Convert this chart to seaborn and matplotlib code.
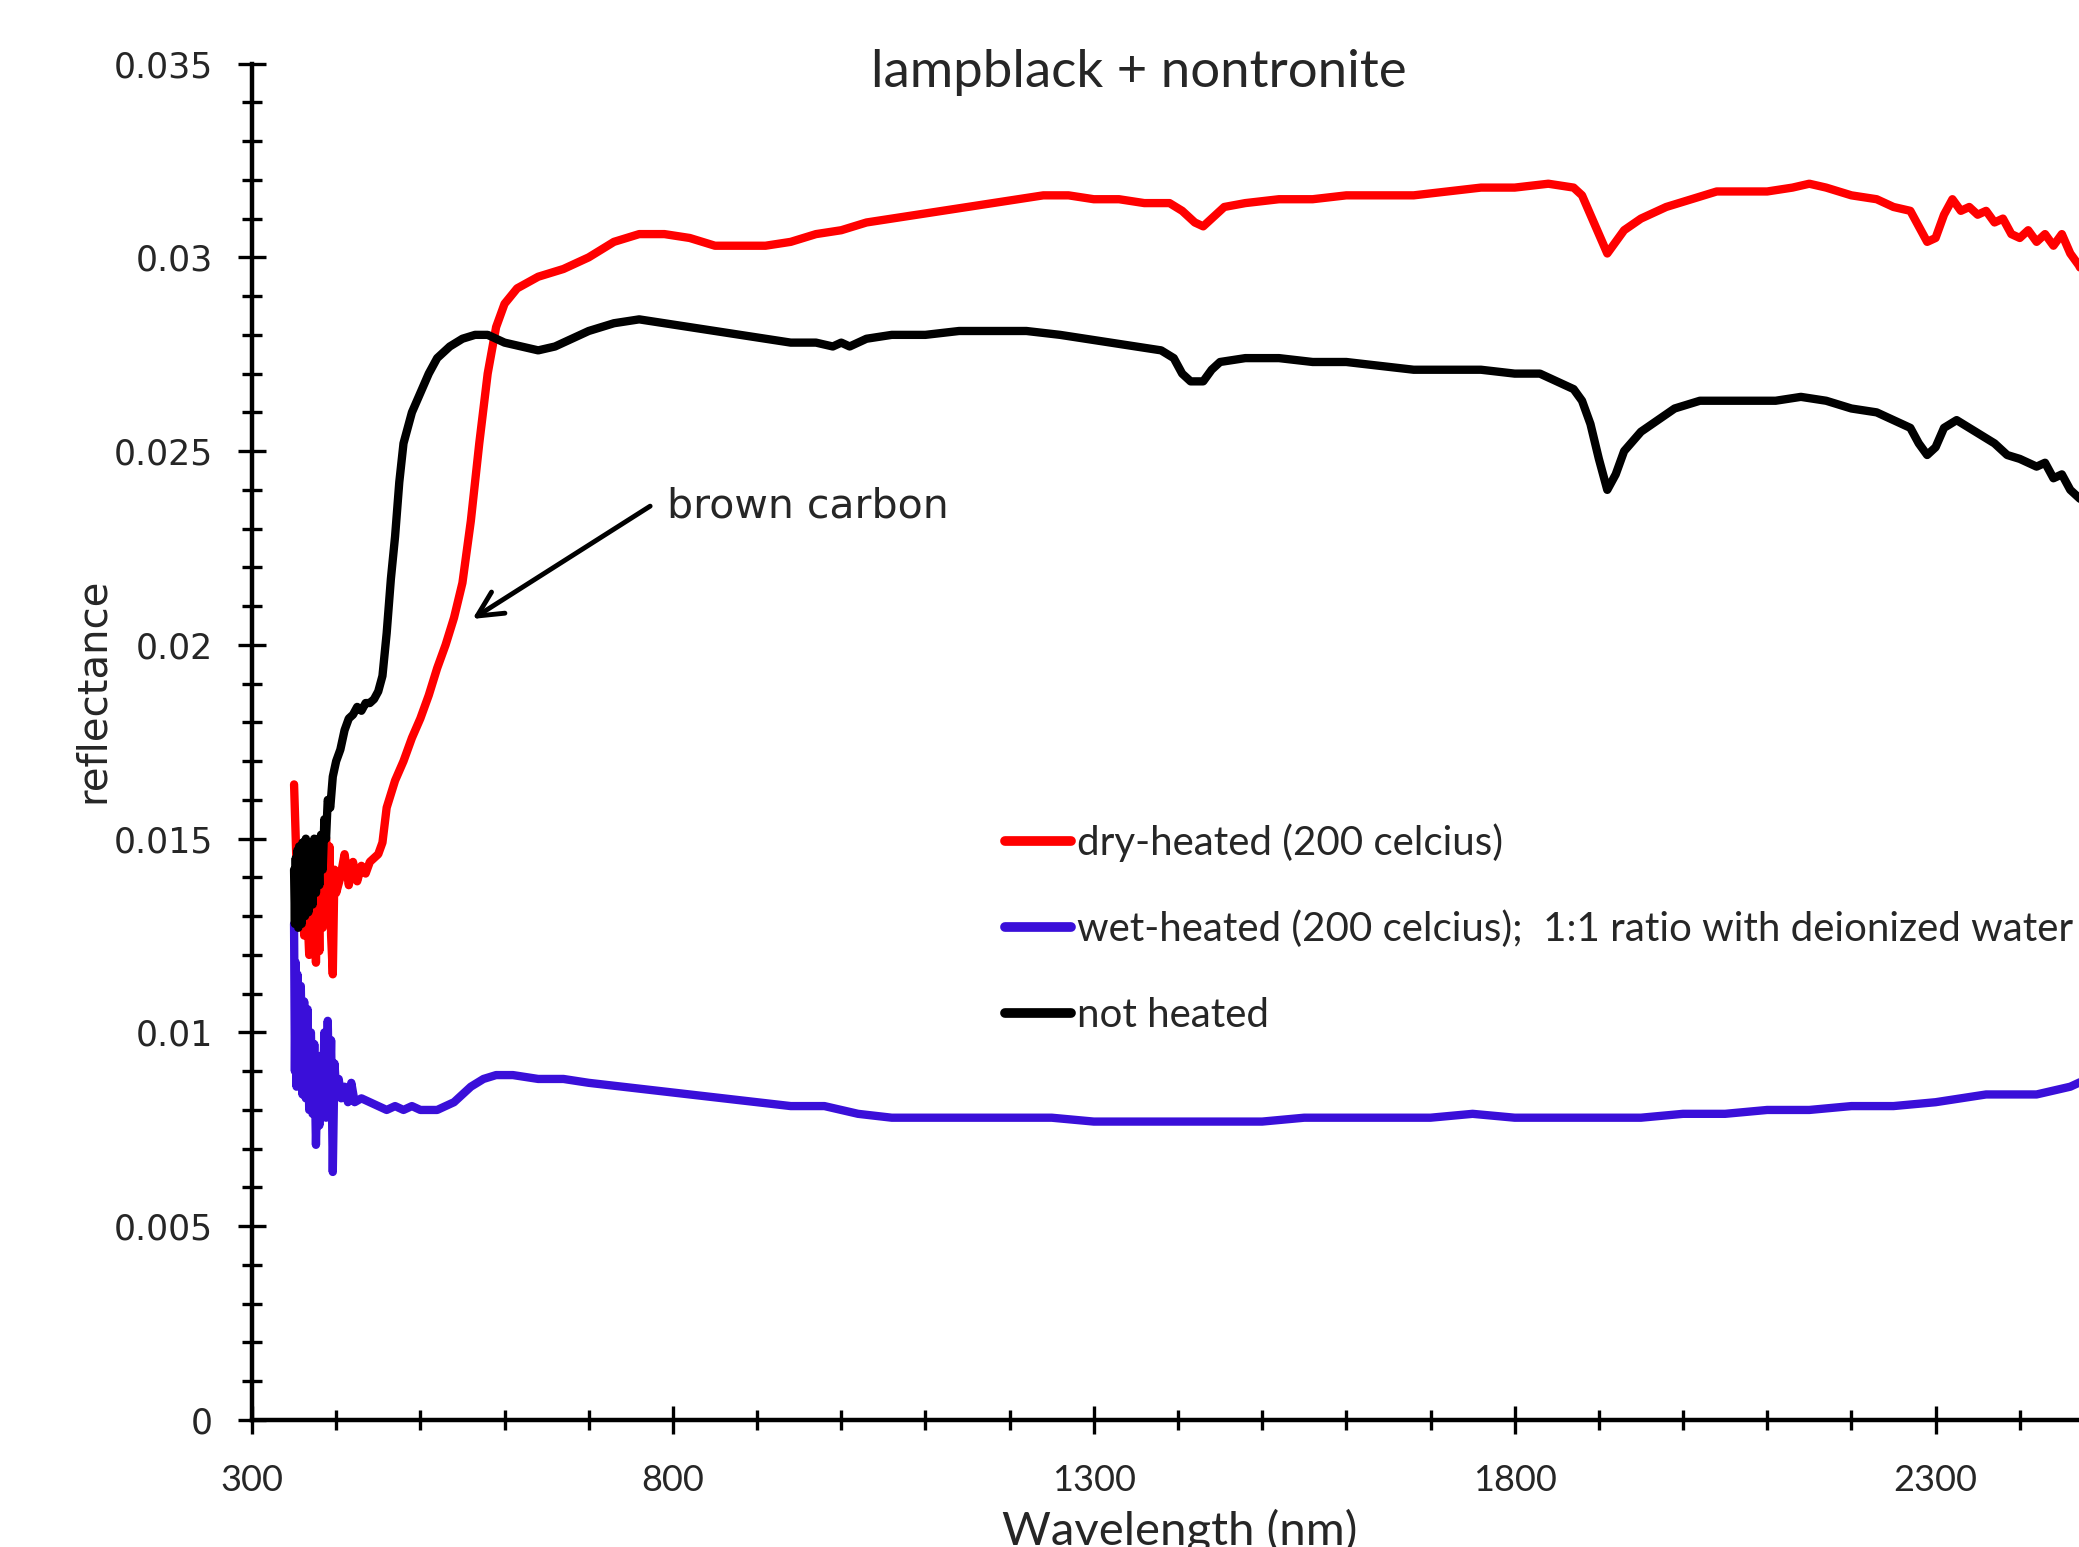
import pandas as pd
import matplotlib
matplotlib.use("Agg")
import matplotlib.pyplot as plt
from matplotlib.lines import Line2D
from matplotlib.ticker import MultipleLocator, FuncFormatter
import seaborn as sns

# dry-heated (200 celcius)
dry_nm = [350, 352, 354, 356, 358, 360, 362, 364, 366, 368, 370, 372, 374, 376, 378, 380,
          382, 384, 386, 388, 390, 392, 394, 396, 398, 400, 405, 410, 415, 420, 425, 430,
          435, 440, 445, 450, 455, 460, 470, 480, 490, 500, 510, 520, 530, 540, 550, 560,
          570, 580, 590, 600, 615, 640, 670, 700, 730, 760, 790, 820, 850, 880, 910, 940,
          970, 1000, 1030, 1060, 1090, 1120, 1150, 1180, 1210, 1240, 1270, 1300, 1330, 1360,
          1390, 1405, 1420, 1430, 1440, 1455, 1480, 1520, 1560, 1600, 1640, 1680, 1720, 1760,
          1800, 1840, 1870, 1880, 1890, 1900, 1910, 1920, 1930, 1950, 1980, 2010, 2040, 2070,
          2100, 2130, 2150, 2170, 2200, 2230, 2250, 2270, 2280, 2290, 2300, 2310, 2320, 2330,
          2340, 2350, 2360, 2370, 2380, 2390, 2400, 2410, 2420, 2430, 2440, 2450, 2460, 2470,
          2480, 2500]
dry_refl = [0.0164, 0.0150, 0.0135, 0.0148, 0.0128, 0.0146, 0.0125, 0.0142, 0.0130, 0.0120,
            0.0145, 0.0122, 0.0140, 0.0118, 0.0138, 0.0121, 0.0145, 0.0127, 0.0140, 0.0150,
            0.0132, 0.0148, 0.0125, 0.0115, 0.0142, 0.0136, 0.0140, 0.0146, 0.0138, 0.0144,
            0.0139, 0.0143, 0.0141, 0.0144, 0.0145, 0.0146, 0.0149, 0.0158, 0.0165, 0.0170,
            0.0176, 0.0181, 0.0187, 0.0194, 0.0200, 0.0207, 0.0216, 0.0232, 0.0252, 0.0270,
            0.0282, 0.0288, 0.0292, 0.0295, 0.0297, 0.0300, 0.0304, 0.0306, 0.0306, 0.0305,
            0.0303, 0.0303, 0.0303, 0.0304, 0.0306, 0.0307, 0.0309, 0.0310, 0.0311, 0.0312,
            0.0313, 0.0314, 0.0315, 0.0316, 0.0316, 0.0315, 0.0315, 0.0314, 0.0314, 0.0312,
            0.0309, 0.0308, 0.0310, 0.0313, 0.0314, 0.0315, 0.0315, 0.0316, 0.0316, 0.0316,
            0.0317, 0.0318, 0.0318, 0.0319, 0.0318, 0.0316, 0.0311, 0.0306, 0.0301, 0.0304,
            0.0307, 0.0310, 0.0313, 0.0315, 0.0317, 0.0317, 0.0317, 0.0318, 0.0319, 0.0318,
            0.0316, 0.0315, 0.0313, 0.0312, 0.0308, 0.0304, 0.0305, 0.0311, 0.0315, 0.0312,
            0.0313, 0.0311, 0.0312, 0.0309, 0.0310, 0.0306, 0.0305, 0.0307, 0.0304, 0.0306,
            0.0303, 0.0306, 0.0301, 0.0298, 0.0294, 0.0290]

# wet-heated (200 celcius); 1:1 ratio with deionized water
wet_nm = [350, 351, 352, 353, 354, 356, 358, 360, 362, 364, 366, 368, 370, 372, 374, 376,
          378, 380, 382, 384, 386, 388, 390, 392, 394, 396, 398, 400, 403, 406, 410, 414,
          418, 422, 430, 440, 450, 460, 470, 480, 490, 500, 510, 520, 530, 540, 550, 560,
          575, 590, 610, 640, 670, 700, 740, 780, 820, 860, 900, 940, 980, 1000, 1020, 1060,
          1100, 1150, 1200, 1250, 1300, 1350, 1400, 1450, 1500, 1550, 1600, 1650, 1700, 1750,
          1800, 1850, 1900, 1950, 2000, 2050, 2100, 2150, 2200, 2250, 2300, 2330, 2360, 2390,
          2420, 2440, 2460, 2480, 2500]
wet_refl = [0.0128, 0.0090, 0.0118, 0.0086, 0.0115, 0.0089, 0.0112, 0.0084, 0.0108, 0.0083,
            0.0106, 0.0080, 0.0100, 0.0079, 0.0097, 0.0071, 0.0090, 0.0076, 0.0094, 0.0080,
            0.0100, 0.0078, 0.0103, 0.0079, 0.0098, 0.0064, 0.0092, 0.0085, 0.0088, 0.0083,
            0.0086, 0.0082, 0.0087, 0.0082, 0.0083, 0.0082, 0.0081, 0.0080, 0.0081, 0.0080,
            0.0081, 0.0080, 0.0080, 0.0080, 0.0081, 0.0082, 0.0084, 0.0086, 0.0088, 0.0089,
            0.0089, 0.0088, 0.0088, 0.0087, 0.0086, 0.0085, 0.0084, 0.0083, 0.0082, 0.0081,
            0.0081, 0.0080, 0.0079, 0.0078, 0.0078, 0.0078, 0.0078, 0.0078, 0.0077, 0.0077,
            0.0077, 0.0077, 0.0077, 0.0078, 0.0078, 0.0078, 0.0078, 0.0079, 0.0078, 0.0078,
            0.0078, 0.0078, 0.0079, 0.0079, 0.0080, 0.0080, 0.0081, 0.0081, 0.0082, 0.0083,
            0.0084, 0.0084, 0.0084, 0.0085, 0.0086, 0.0088, 0.0089]

# not heated
raw_nm = [350, 351, 352, 353, 354, 355, 356, 357, 358, 359, 360, 361, 362, 363, 364, 365,
          366, 367, 368, 369, 370, 372, 374, 376, 378, 380, 382, 384, 386, 388, 390, 393,
          396, 400, 405, 410, 415, 420, 425, 430, 435, 440, 445, 450, 455, 460, 465, 470,
          475, 480, 490, 500, 510, 520, 535, 550, 565, 580, 600, 620, 640, 660, 680, 700,
          730, 760, 790, 820, 850, 880, 910, 940, 970, 990, 1000, 1010, 1030, 1060, 1100,
          1140, 1180, 1220, 1260, 1290, 1320, 1350, 1380, 1395, 1405, 1415, 1430, 1440, 1450,
          1480, 1520, 1560, 1600, 1640, 1680, 1720, 1760, 1800, 1830, 1850, 1870, 1880, 1890,
          1900, 1910, 1920, 1930, 1950, 1970, 1990, 2020, 2050, 2080, 2110, 2140, 2170, 2200,
          2230, 2250, 2270, 2280, 2290, 2300, 2310, 2325, 2340, 2355, 2370, 2385, 2400, 2410,
          2420, 2430, 2440, 2450, 2460, 2470, 2480, 2500]
raw_refl = [0.0142, 0.0128, 0.0145, 0.0130, 0.0147, 0.0127, 0.0148, 0.0131, 0.0146, 0.0128,
            0.0149, 0.0133, 0.0147, 0.0130, 0.0150, 0.0134, 0.0148, 0.0131, 0.0149, 0.0135,
            0.0147, 0.0133, 0.0150, 0.0136, 0.0148, 0.0138, 0.0151, 0.0142, 0.0155, 0.0150,
            0.0160, 0.0158, 0.0166, 0.0170, 0.0173, 0.0178, 0.0181, 0.0182, 0.0184, 0.0183,
            0.0185, 0.0185, 0.0186, 0.0188, 0.0192, 0.0203, 0.0217, 0.0228, 0.0242, 0.0252,
            0.0260, 0.0265, 0.0270, 0.0274, 0.0277, 0.0279, 0.0280, 0.0280, 0.0278, 0.0277,
            0.0276, 0.0277, 0.0279, 0.0281, 0.0283, 0.0284, 0.0283, 0.0282, 0.0281, 0.0280,
            0.0279, 0.0278, 0.0278, 0.0277, 0.0278, 0.0277, 0.0279, 0.0280, 0.0280, 0.0281,
            0.0281, 0.0281, 0.0280, 0.0279, 0.0278, 0.0277, 0.0276, 0.0274, 0.0270, 0.0268,
            0.0268, 0.0271, 0.0273, 0.0274, 0.0274, 0.0273, 0.0273, 0.0272, 0.0271, 0.0271,
            0.0271, 0.0270, 0.0270, 0.0268, 0.0266, 0.0263, 0.0257, 0.0248, 0.0240, 0.0244,
            0.0250, 0.0255, 0.0258, 0.0261, 0.0263, 0.0263, 0.0263, 0.0263, 0.0264, 0.0263,
            0.0261, 0.0260, 0.0258, 0.0256, 0.0252, 0.0249, 0.0251, 0.0256, 0.0258, 0.0256,
            0.0254, 0.0252, 0.0249, 0.0248, 0.0247, 0.0246, 0.0247, 0.0243, 0.0244, 0.0240,
            0.0238, 0.0236, 0.0233]

labels = ["dry-heated (200 celcius)",
          "wet-heated (200 celcius);  1:1 ratio with deionized water",
          "not heated"]
colors = ["#FF0000", "#3A0FD9", "#000000"]

df = pd.concat([
    pd.DataFrame({"wavelength": dry_nm, "reflectance": dry_refl, "sample": labels[0]}),
    pd.DataFrame({"wavelength": wet_nm, "reflectance": wet_refl, "sample": labels[1]}),
    pd.DataFrame({"wavelength": raw_nm, "reflectance": raw_refl, "sample": labels[2]}),
])

sns.set_style("white")
plt.rcParams["font.family"] = ["Lato", "DejaVu Sans"]

fig = plt.figure(figsize=(20.79, 15.47), dpi=100)
ax = fig.add_axes([0.1212, 0.0821, 0.8908, 0.8768])

sns.lineplot(data=df, x="wavelength", y="reflectance", hue="sample",
             palette=dict(zip(labels, colors)), hue_order=labels,
             linewidth=6, estimator=None, sort=False, legend=False, ax=ax)

ax.set_xlim(300, 2500)
ax.set_ylim(0, 0.035)
ax.set_xticks([300, 800, 1300, 1800, 2300])
ax.xaxis.set_minor_locator(MultipleLocator(100))
ax.yaxis.set_major_locator(MultipleLocator(0.005))
ax.yaxis.set_minor_locator(MultipleLocator(0.001))
ax.yaxis.set_major_formatter(FuncFormatter(lambda v, p: f"{v:g}"))

for s in ["top", "right"]:
    ax.spines[s].set_visible(False)
for s in ["left", "bottom"]:
    ax.spines[s].set_linewidth(3.2)
    ax.spines[s].set_color("black")

ax.tick_params(which="both", bottom=True, left=True, top=False, right=False)
ax.tick_params(which="major", direction="inout", length=20, width=2.4, color="black")
ax.tick_params(which="minor", direction="inout", length=14, width=2.4, color="black")
ax.tick_params(axis="x", which="major", pad=22, labelsize=26)
ax.tick_params(axis="y", which="major", pad=18, labelsize=25)
for t in ax.get_yticklabels():
    t.set_fontfamily("DejaVu Sans")

ax.set_xlabel("")
ax.set_ylabel("")
fig.text(0.0447, 0.554, "reflectance", rotation=90, ha="center", va="center",
         fontsize=29, family="DejaVu Sans")
fig.text(0.5676, 0.0246, "Wavelength (nm)", ha="center", va="top", fontsize=34)
fig.text(0.548, 0.953, "lampblack + nontronite", ha="center", va="center", fontsize=38)

# brown carbon arrow
ax.annotate("", xy=(562, 0.02067), xytext=(773, 0.02358),
            arrowprops=dict(arrowstyle="->", lw=3.5, color="black", mutation_scale=45,
                            shrinkA=0, shrinkB=0))
ax.text(793, 0.02358, "brown carbon", ha="left", va="center", fontsize=29.5,
        family="DejaVu Sans")

handles = [Line2D([], [], color=c, lw=7) for c in colors]
ax.legend(handles, labels, loc="upper left", bbox_to_anchor=(0.4834, 0.4675),
          bbox_transform=fig.transFigure, frameon=False, fontsize=29,
          handlelength=1.65, handletextpad=0.15, labelspacing=1.2,
          borderpad=0, borderaxespad=0)

fig.savefig("out.png", dpi=100)
